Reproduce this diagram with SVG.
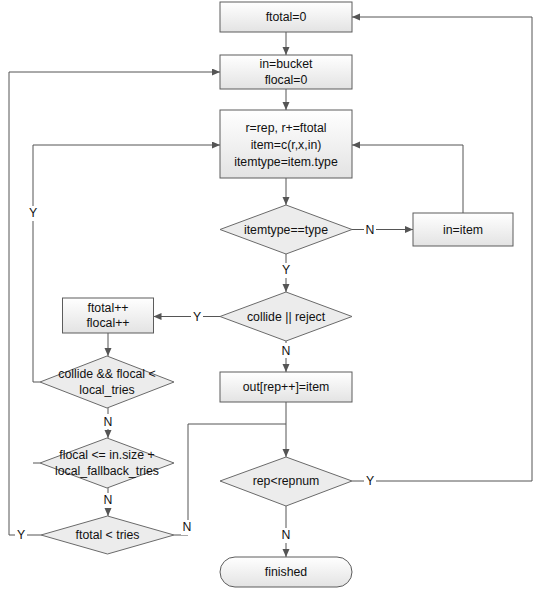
<svg xmlns="http://www.w3.org/2000/svg" width="541" height="589" viewBox="0 0 541 589">
<defs>
<linearGradient id="g" x1="0" y1="0" x2="0" y2="1">
<stop offset="0" stop-color="#ffffff"/>
<stop offset="1" stop-color="#e3e3e3"/>
</linearGradient>
<marker id="a" markerWidth="8" markerHeight="8" refX="8" refY="3.5" orient="auto" markerUnits="userSpaceOnUse">
<path d="M0,0 L8,3.5 L0,7 z" fill="#555"/>
</marker>
</defs>
<style>
.box{fill:url(#g);stroke:#5c5c5c;stroke-width:1}
.dia{fill:#ececec;stroke:#6a6a6a;stroke-width:1}
.t{font-family:"Liberation Sans",Arial,sans-serif;font-size:12.3px;fill:#111;text-anchor:middle;dominant-baseline:central}
.c{fill:none;stroke:#555;stroke-width:1}
.lb{fill:#fff}
</style>
<rect width="541" height="589" fill="#fff"/>
<g id="connectors">
<path class="c" d="M286,32 V55" marker-end="url(#a)"/>
<path class="c" d="M286,89 V110" marker-end="url(#a)"/>
<path class="c" d="M286,178 V205" marker-end="url(#a)"/>
<path class="c" d="M352,229.5 H413" marker-end="url(#a)"/>
<path class="c" d="M463,213 V145 H352" marker-end="url(#a)"/>
<path class="c" d="M286,254 V292" marker-end="url(#a)"/>
<path class="c" d="M220,316.5 H153.5" marker-end="url(#a)"/>
<path class="c" d="M286,341 V372" marker-end="url(#a)"/>
<path class="c" d="M108,333 V356" marker-end="url(#a)"/>
<path class="c" d="M40,382 H33 V145 H220" marker-end="url(#a)"/>
<path class="c" d="M40,463 H33"/>
<path class="c" d="M108,408 V438" marker-end="url(#a)"/>
<path class="c" d="M108,488 V516" marker-end="url(#a)"/>
<path class="c" d="M41,535 H9 V72 H220" marker-end="url(#a)"/>
<path class="c" d="M174,535 H188 V424 H286"/>
<path class="c" d="M286,402 V457" marker-end="url(#a)"/>
<path class="c" d="M352,481 H532 V17 H352" marker-end="url(#a)"/>
<path class="c" d="M286,506 V557" marker-end="url(#a)"/>
<rect class="lb" x="364" y="222" width="12" height="15"/><text class="t" x="370" y="229.5">N</text>
<rect class="lb" x="280" y="263" width="12" height="15"/><text class="t" x="286" y="270">Y</text>
<rect class="lb" x="191" y="309" width="12" height="15"/><text class="t" x="197" y="316.5">Y</text>
<rect class="lb" x="280" y="343" width="12" height="15"/><text class="t" x="286" y="351">N</text>
<rect class="lb" x="27" y="206" width="12" height="15"/><text class="t" x="33" y="213">Y</text>
<rect class="lb" x="102" y="414" width="12" height="15"/><text class="t" x="108" y="421.5">N</text>
<rect class="lb" x="102" y="493" width="12" height="15"/><text class="t" x="108" y="500">N</text>
<rect class="lb" x="15" y="528" width="12" height="15"/><text class="t" x="21" y="535">Y</text>
<rect class="lb" x="181" y="520" width="12" height="15"/><text class="t" x="187" y="527">N</text>
<rect class="lb" x="364" y="473" width="12" height="15"/><text class="t" x="370" y="480.5">Y</text>
<rect class="lb" x="280" y="528" width="12" height="15"/><text class="t" x="286" y="535">N</text>
</g>
<g id="n_ftotal0"><rect class="box" x="220" y="2" width="132" height="30"/><text class="t" x="286" y="17">ftotal=0</text></g>
<g id="n_inbucket"><rect class="box" x="220" y="55" width="132" height="34"/><text class="t" x="286" y="64">in=bucket</text><text class="t" x="286" y="80">flocal=0</text></g>
<g id="n_rrep"><rect class="box" x="220" y="110" width="132" height="68"/><text class="t" x="286" y="128">r=rep, r+=ftotal</text><text class="t" x="286" y="145">item=c(r,x,in)</text><text class="t" x="286" y="161.5">itemtype=item.type</text></g>
<g id="n_itemtype"><polygon class="dia" points="286,205 352,229.5 286,254 220,229.5"/><text class="t" x="286" y="229.5">itemtype==type</text></g>
<g id="n_initem"><rect class="box" x="413" y="213" width="100" height="33"/><text class="t" x="463" y="229.5">in=item</text></g>
<g id="n_collide"><polygon class="dia" points="286,292 352,316.5 286,341 220,316.5"/><text class="t" x="286" y="316.5">collide || reject</text></g>
<g id="n_ftotalpp"><rect class="box" x="62.5" y="298" width="91" height="35"/><text class="t" x="108" y="307.5">ftotal++</text><text class="t" x="108" y="323">flocal++</text></g>
<g id="n_out"><rect class="box" x="220" y="372" width="132" height="30"/><text class="t" x="286" y="387">out[rep++]=item</text></g>
<g id="n_collidelocal"><polygon class="dia" points="107,356 174,382 107,408 40,382"/><text class="t" x="107" y="373.5">collide &amp;&amp; flocal &lt;</text><text class="t" x="107" y="389.5">local_tries</text></g>
<g id="n_flocal"><polygon class="dia" points="107,438 174,463 107,488 40,463"/><text class="t" x="107" y="454.5">flocal &lt;= in.size +</text><text class="t" x="107" y="470.5">local_fallback_tries</text></g>
<g id="n_ftotaltries"><polygon class="dia" points="107.5,516 174,535 107.5,554 41,535"/><text class="t" x="107.5" y="535">ftotal &lt; tries</text></g>
<g id="n_rep"><polygon class="dia" points="286,457 352,481 286,506 220,481"/><text class="t" x="286" y="481">rep&lt;repnum</text></g>
<g id="n_finished"><rect class="box" x="220" y="557" width="132" height="30" rx="15" ry="15"/><text class="t" x="286" y="572">finished</text></g>
</svg>
